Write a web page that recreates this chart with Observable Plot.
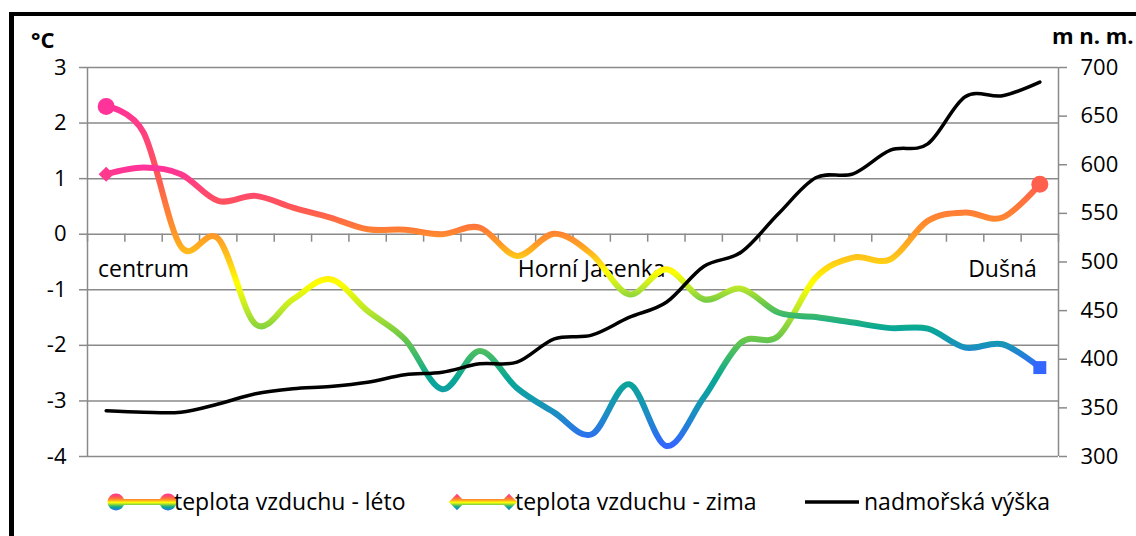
<!DOCTYPE html>
<html>
<head>
<meta charset="utf-8">
<script src="https://cdn.jsdelivr.net/npm/d3@7"></script>
<script src="https://cdn.jsdelivr.net/npm/@observablehq/plot@0.6"></script>
<style>
  html, body { margin: 0; padding: 0; background: #fff; overflow: hidden; }
  body { font-family: "Open Sans", sans-serif; color: #000; }
  #wrap { position: relative; width: 1136px; height: 536px; overflow: hidden; background: #fff; }
  #chart { position: absolute; left: 0; top: 0; }
  #frame { position: absolute; left: 9px; top: 12px; width: 1300px; height: 700px;
           border-top: 4px solid #000; border-left: 5px solid #000; pointer-events: none; }
  .unit { position: absolute; font-weight: bold; font-size: 22px; line-height: normal; white-space: nowrap; }
  .ltext { position: absolute; font-size: 23px; line-height: normal; white-space: nowrap; top: 485px; }
  .lsym { position: absolute; }
</style>
</head>
<body>
<div id="wrap">
  <div id="chart"></div>
  <div class="unit" style="left:31px; top:24px;">°C</div>
  <div class="unit" style="left:1052px; top:20px;">m n. m.</div>
  <div id="legend"></div>
  <div id="frame"></div>
</div>
<script>
// ---- data ----
const categories = ["", "centrum", "", "", "", "", "", "", "", "", "", "", "", "Horní Jasenka",
  "", "", "", "", "", "", "", "", "", "", "Dušná", ""];
const leto = [2.3, 1.83, -0.22, -0.08, -1.62, -1.17, -0.81, -1.38, -1.89, -2.79, -2.1, -2.77, -3.21,
  -3.6, -2.7, -3.81, -2.94, -1.95, -1.83, -0.78, -0.42, -0.45, 0.24, 0.39, 0.3, 0.9];
const zima = [1.08, 1.2, 1.08, 0.6, 0.69, 0.48, 0.3, 0.09, 0.08, 0.0, 0.12, -0.39, 0.01,
  -0.36, -1.08, -0.63, -1.17, -0.98, -1.41, -1.49, -1.59, -1.69, -1.7, -2.04, -1.98, -2.4];
const elevation = [347, 345.5, 345.5, 354, 364.5, 369.6, 372, 376.4, 384, 386.7, 395.3, 397, 421,
  424.8, 443, 458.6, 495.4, 510, 549.6, 586.6, 590.7, 615, 621.5, 670, 671, 685];
const seriesNames = ["teplota vzduchu - léto", "teplota vzduchu - zima", "nadmořská výška"];
const tempTicks = [-4, -3, -2, -1, 0, 1, 2, 3];
const elevTicks = [300, 350, 400, 450, 500, 550, 600, 650, 700];
const gradientStops = [[0, "#FF3399"], [0.2, "#FF5656"], [0.3, "#FF7A38"], [0.38, "#FF9A26"],
  [0.45, "#FFC818"], [0.52, "#FFFF00"], [0.6, "#BBE82A"], [0.68, "#6CC848"], [0.8, "#08A894"],
  [0.9, "#1A90C0"], [1, "#3366FF"]];

// ---- helpers ----
const tempDomain = [tempTicks[0], tempTicks[tempTicks.length - 1]];
const elevDomain = [elevTicks[0], elevTicks[elevTicks.length - 1]];
const toTemp = d3.scaleLinear().domain(elevDomain).range(tempDomain);
const gradColor = d3.scaleLinear().domain(gradientStops.map(s => s[0])).range(gradientStops.map(s => s[1])).interpolate(d3.interpolateRgb);
const fracColor = (arr) => { const mx = d3.max(arr), mn = d3.min(arr); return v => gradColor((mx - v) / (mx - mn)); };
const letoColor = fracColor(leto), zimaColor = fracColor(zima);

const rows = categories.map((c, i) => ({i, c, leto: leto[i], zima: zima[i], elev: elevation[i]}));
const n = categories.length;
const boundaries = d3.range(n + 1).map(k => k - 0.5);
const first = rows[0], last = rows[n - 1];
const gridColor = "#8a8a8a";

const svg = Plot.plot({
  width: 1136,
  height: 480,
  marginLeft: 87,
  marginRight: 78,
  marginTop: 67,
  marginBottom: 24,
  style: {fontFamily: "Open Sans, sans-serif", fontSize: "22px", color: "#000", background: "transparent", overflow: "visible"},
  x: {type: "linear", domain: [-0.5, n - 0.5], axis: null},
  y: {domain: tempDomain, axis: null},
  marks: [
    Plot.gridY(tempTicks, {stroke: gridColor, strokeOpacity: 1, strokeWidth: 1.5}),
    Plot.ruleX([boundaries[0], boundaries[n]], {stroke: gridColor, strokeWidth: 1.5}),
    Plot.ruleX(boundaries, {x: d => d, y1: 0, y2: 0, insetTop: 0, insetBottom: -8, stroke: gridColor, strokeWidth: 1.5}),
    Plot.axisY(tempTicks, {anchor: "left", tickSize: 8, tickPadding: 13, stroke: gridColor, strokeWidth: 1.5, label: null,
      tickFormat: d => String(d), fontSize: 22, fill: "#000"}),
    Plot.axisY(elevTicks.map(toTemp), {anchor: "right", tickSize: 8, tickPadding: 14, stroke: gridColor, strokeWidth: 1.5, label: null,
      tickFormat: v => String(Math.round(toTemp.invert(v))), fontSize: 22, fill: "#000"}),
    Plot.text(rows, {x: "i", y: 0, text: "c", dy: 35, fontSize: 23, fill: "#000"}),
    Plot.line(rows, {x: "i", y: "leto", stroke: "url(#gradTemp)", strokeWidth: 6, curve: "cardinal"}),
    Plot.dot([first, last], {x: "i", y: "leto", r: 8.5, symbol: "circle", fill: d => letoColor(d.leto), stroke: "none"}),
    Plot.line(rows, {x: "i", y: "zima", stroke: "url(#gradTemp)", strokeWidth: 6, curve: "cardinal"}),
    Plot.dot([first], {x: "i", y: "zima", r: 6.8, symbol: "diamond2", fill: d => zimaColor(d.zima), stroke: "none"}),
    Plot.dot([last], {x: "i", y: "zima", r: 7.3, symbol: "square", fill: d => zimaColor(d.zima), stroke: "none"}),
    Plot.line(rows, {x: "i", y: d => toTemp(d.elev), stroke: "#000", strokeWidth: 3.5, curve: "cardinal"})
  ]
});
// gradient definition (objectBoundingBox: vertical over each line's extent)
const defs = d3.create("svg:defs");
const lg = defs.append("linearGradient").attr("id", "gradTemp").attr("x1", 0).attr("y1", 0).attr("x2", 0).attr("y2", 1);
gradientStops.forEach(([o, c]) => lg.append("stop").attr("offset", o).attr("stop-color", c));
svg.insertBefore(defs.node(), svg.firstChild);
document.getElementById("chart").appendChild(svg);

// ---- legend ----
const legend = d3.select("#legend");
function addGrad(s, id, y1, y2) {
  const g = s.select("defs").empty() ? s.append("defs") : s.select("defs");
  const lgr = g.append("linearGradient").attr("id", id).attr("gradientUnits", "userSpaceOnUse")
    .attr("x1", 0).attr("y1", y1).attr("x2", 0).attr("y2", y2);
  gradientStops.forEach(([o, c]) => lgr.append("stop").attr("offset", o).attr("stop-color", c));
}
function legendSymbol(left, kind) {
  const w = kind === "line" ? 54 : 70, h = 20, cy = 10;
  const s = legend.append("svg").attr("class", "lsym").attr("width", w).attr("height", h)
    .style("left", left + "px").style("top", (502 - cy) + "px");
  if (kind === "line") {
    s.append("line").attr("x1", 0).attr("x2", w).attr("y1", cy).attr("y2", cy).attr("stroke", "#000").attr("stroke-width", 3.5);
    return;
  }
  const id = "lg_" + kind;
  addGrad(s, id, 1.5, 18.5);
  addGrad(s, id + "_local", -8.5, 8.5);
  const a = 9, b = w - 9;
  s.append("line").attr("x1", a).attr("x2", b).attr("y1", cy).attr("y2", cy).attr("stroke", `url(#${id})`).attr("stroke-width", 6);
  for (const x of [a, b]) {
    if (kind === "circle") s.append("circle").attr("cx", x).attr("cy", cy).attr("r", 8.5).attr("fill", `url(#${id})`);
    else s.append("path").attr("d", d3.symbol(d3.symbolDiamond2, 170)()).attr("transform", `translate(${x},${cy})`).attr("fill", `url(#${id}_local)`);
  }
}
legendSymbol(107, "circle");
legendSymbol(448, "diamond");
legendSymbol(805, "line");
const textLefts = [174, 515, 864];
seriesNames.forEach((t, k) => legend.append("div").attr("class", "ltext").style("left", textLefts[k] + "px").text(t));
</script>
</body>
</html>
